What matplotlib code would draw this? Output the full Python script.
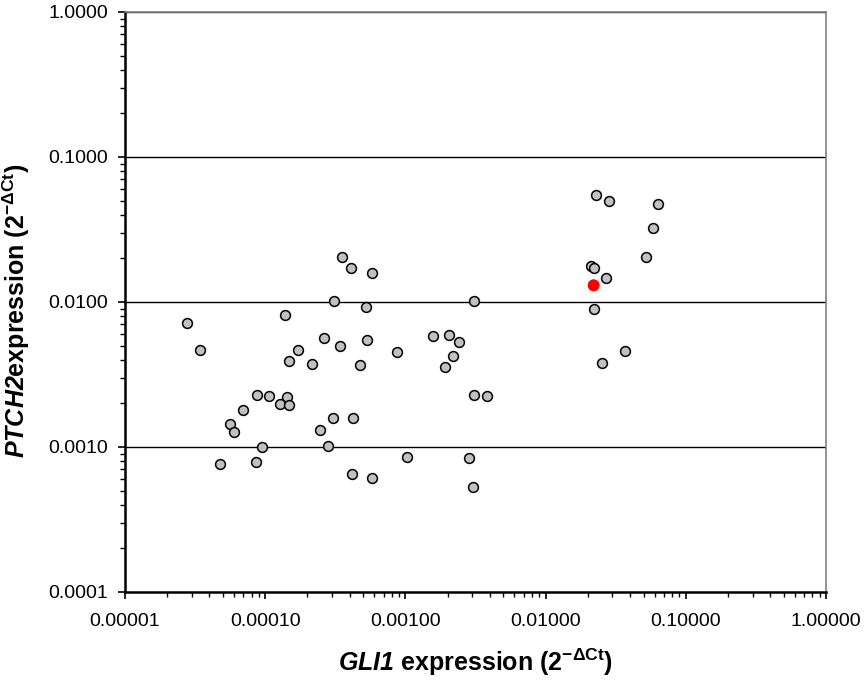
import numpy as np
import matplotlib
matplotlib.use('Agg')
import matplotlib.pyplot as plt
from matplotlib.ticker import FixedLocator, FuncFormatter, NullFormatter

plt.rcParams['font.family'] = ['Liberation Sans', 'DejaVu Sans']
plt.rcParams['mathtext.fontset'] = 'custom'
plt.rcParams['mathtext.rm'] = 'Liberation Sans'
plt.rcParams['mathtext.it'] = 'Liberation Sans:italic'
plt.rcParams['mathtext.bf'] = 'Liberation Sans:bold'
plt.rcParams['mathtext.bfit'] = 'Liberation Sans:bold:italic'

# GLI1 / PTCH2 expression (2^-dCt), grey samples
gli1 = [3.51e-4, 4.07e-4, 3.11e-4, 1.385e-4, 2.77e-5, 3.41e-5, 2.63e-4, 3.43e-4,
        1.705e-4, 1.479e-4, 2.146e-4, 8.78e-5, 1.064e-4, 1.424e-4, 1.275e-4, 1.486e-4,
        6.91e-5, 3.045e-4, 4.25e-4, 5.58e-5, 5.99e-5, 2.47e-4, 9.44e-5, 2.818e-4,
        4.74e-5, 8.6e-5, 4.16e-4, 5.78e-4, 5.21e-4, 3.086e-3, 5.35e-4, 8.76e-4,
        4.72e-4, 1.565e-3, 2.037e-3, 2.412e-3, 2.185e-3, 1.917e-3, 3.086e-3, 3.8e-3,
        1.032e-3, 2.842e-3, 5.78e-4, 3.036e-3, 0.02299, 0.02818, 0.06304, 0.05834,
        0.05226, 0.02098, 0.02203, 0.0271, 0.02203, 0.03702, 0.02537]
ptch2 = [0.02034, 0.01724, 0.01021, 0.00818, 0.00713, 0.00469, 0.00562, 0.00497,
         0.00469, 0.00392, 0.003755, 0.002284, 0.002237, 0.002202, 0.001979, 0.00194,
         0.0018, 0.001593, 0.001593, 0.00144, 0.001275, 0.001304, 0.001005, 0.001021,
         0.00076, 0.000792, 0.000648, 0.01585, 0.00924, 0.01021, 0.0055, 0.0045,
         0.00368, 0.00583, 0.00595, 0.0053, 0.00424, 0.003546, 0.002284, 0.002237,
         0.000857, 0.00084, 0.000611, 0.000532, 0.05495, 0.04972, 0.04763, 0.03254,
         0.02053, 0.0178, 0.01724, 0.0147, 0.0089, 0.00459, 0.003778]

# highlighted sample
red_gli1 = [0.02203]
red_ptch2 = [0.01303]

x_ticks = [1e-5, 1e-4, 1e-3, 1e-2, 1e-1, 1]
y_ticks = [1e-4, 1e-3, 1e-2, 1e-1, 1]

fig = plt.figure(figsize=(8.66, 6.81), dpi=100)
ax = fig.add_axes([0.1443, 0.1307, 0.8095, 0.8517])

ax.set_xscale('log')
ax.set_yscale('log')
ax.set_xlim(1e-5, 1)
ax.set_ylim(1e-4, 1)

for yv in y_ticks[1:]:
    ax.axhline(yv, color='black', lw=1.0, zorder=1)

ax.scatter(gli1, ptch2, s=50, facecolor='#c0c0c0', edgecolor='black', linewidths=1.1, zorder=3)
ax.scatter(red_gli1, red_ptch2, s=75, facecolor='#ff0000', edgecolor='none', zorder=4)

ax.xaxis.set_major_locator(FixedLocator(x_ticks))
ax.yaxis.set_major_locator(FixedLocator(y_ticks))
ax.xaxis.set_major_formatter(FuncFormatter(lambda v, p: '%.5f' % v))
ax.yaxis.set_major_formatter(FuncFormatter(lambda v, p: '%.4f' % v))
ax.xaxis.set_minor_formatter(NullFormatter())
ax.yaxis.set_minor_formatter(NullFormatter())
ax.tick_params(which='major', direction='out', length=5, width=1.2, labelsize=14, pad=7)
ax.tick_params(axis='x', which='major', pad=10)
ax.tick_params(which='minor', direction='out', length=3.5, width=1.0)

for side in ['left', 'bottom']:
    ax.spines[side].set_linewidth(1.8)
    ax.spines[side].set_color('black')
for side in ['top', 'right']:
    ax.spines[side].set_linewidth(1.2)
    ax.spines[side].set_color('#808080')

ax.set_xlabel(r'$\mathbfit{GLI1}$ expression (2$^{\mathbf{-\Delta Ct}}$)', fontsize=18,
              fontweight='bold', labelpad=12)
ax.set_ylabel(r'$\mathbfit{PTCH2}$expression (2$^{\mathbf{-\Delta Ct}}$)', fontsize=18,
              fontweight='bold')
ax.yaxis.set_label_coords(-0.132, 0.485)

fig.savefig('out.png', dpi=100)
